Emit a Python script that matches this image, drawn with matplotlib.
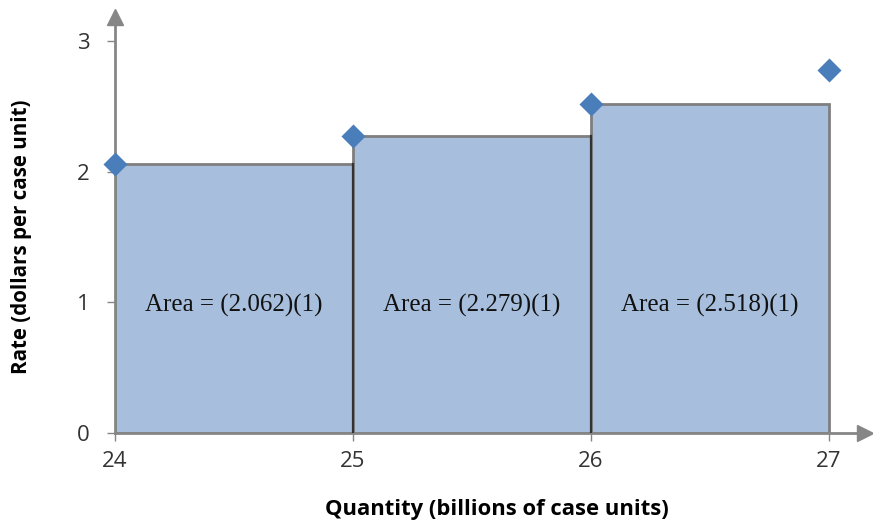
import matplotlib
matplotlib.use("Agg")
import matplotlib.pyplot as plt

# Left endpoints of each interval and the rate sampled there
quantities = [24, 25, 26, 27]
rates = [2.062, 2.279, 2.518, 2.78]
widths = [1, 1, 1]
x_ticks = [24, 25, 26, 27]
y_ticks = [0, 1, 2, 3]

fill_color = "#a7bfdd"
edge_color = "#7f7f7f"
marker_color = "#4a7ebb"
axis_color = "#868686"

fig = plt.figure(figsize=(8.73, 5.22), dpi=100)
ax = fig.add_axes([0.1317, 0.1705, 0.8649, 0.8065])

xmax, ymax = 27.172, 3.226
ax.set_xlim(24, xmax)
ax.set_ylim(0, ymax)

# Left-endpoint rectangles
for x0, h, w in zip(quantities[:-1], rates[:-1], widths):
    ax.bar(x0, h, width=w, align="edge", color=fill_color,
           edgecolor=edge_color, linewidth=2, zorder=2)
    ax.text(x0 + w / 2, 0.98, f"Area = ({h:.3f})({w})", ha="center",
            va="center", fontsize=18, family="Liberation Serif",
            color="#111111", zorder=4)

# Rectangle sides shared between neighbours
for x0, h0, h1 in zip(quantities[1:-1], rates[:-2], rates[1:-1]):
    ax.plot([x0, x0], [0, min(h0, h1)], color="#333333", linewidth=1.6,
            zorder=3)

ax.scatter(quantities, rates, marker="D", s=150, color=marker_color,
           zorder=5, clip_on=False, linewidths=0)

# Axes with arrowheads
for side in ["top", "right"]:
    ax.spines[side].set_visible(False)
for side in ["left", "bottom"]:
    ax.spines[side].set_color(axis_color)
    ax.spines[side].set_linewidth(2)
ax.plot([xmax - 0.02], [0], marker=">", markersize=11, color=axis_color,
        clip_on=False, zorder=6)
ax.plot([24], [ymax - 0.04], marker="^", markersize=11, color=axis_color,
        clip_on=False, zorder=6)

ax.set_xticks(x_ticks)
ax.set_yticks(y_ticks)
ax.tick_params(axis="both", direction="out", length=6, width=1,
               color=axis_color, labelsize=16, labelcolor="#333333")
ax.tick_params(axis="x", pad=7)
ax.tick_params(axis="y", pad=12)
for lbl in ax.get_xticklabels() + ax.get_yticklabels():
    lbl.set_family("Open Sans")

ax.set_xlabel("Quantity (billions of case units)", fontsize=15.8,
              fontweight="bold", family="Open Sans")
ax.set_ylabel("Rate (dollars per case unit)", fontsize=14.8,
              fontweight="bold", family="Open Sans")
ax.xaxis.set_label_coords(0.506, -0.157)
ax.yaxis.set_label_coords(-0.110, 0.465)

fig.savefig("out.png", dpi=100)
